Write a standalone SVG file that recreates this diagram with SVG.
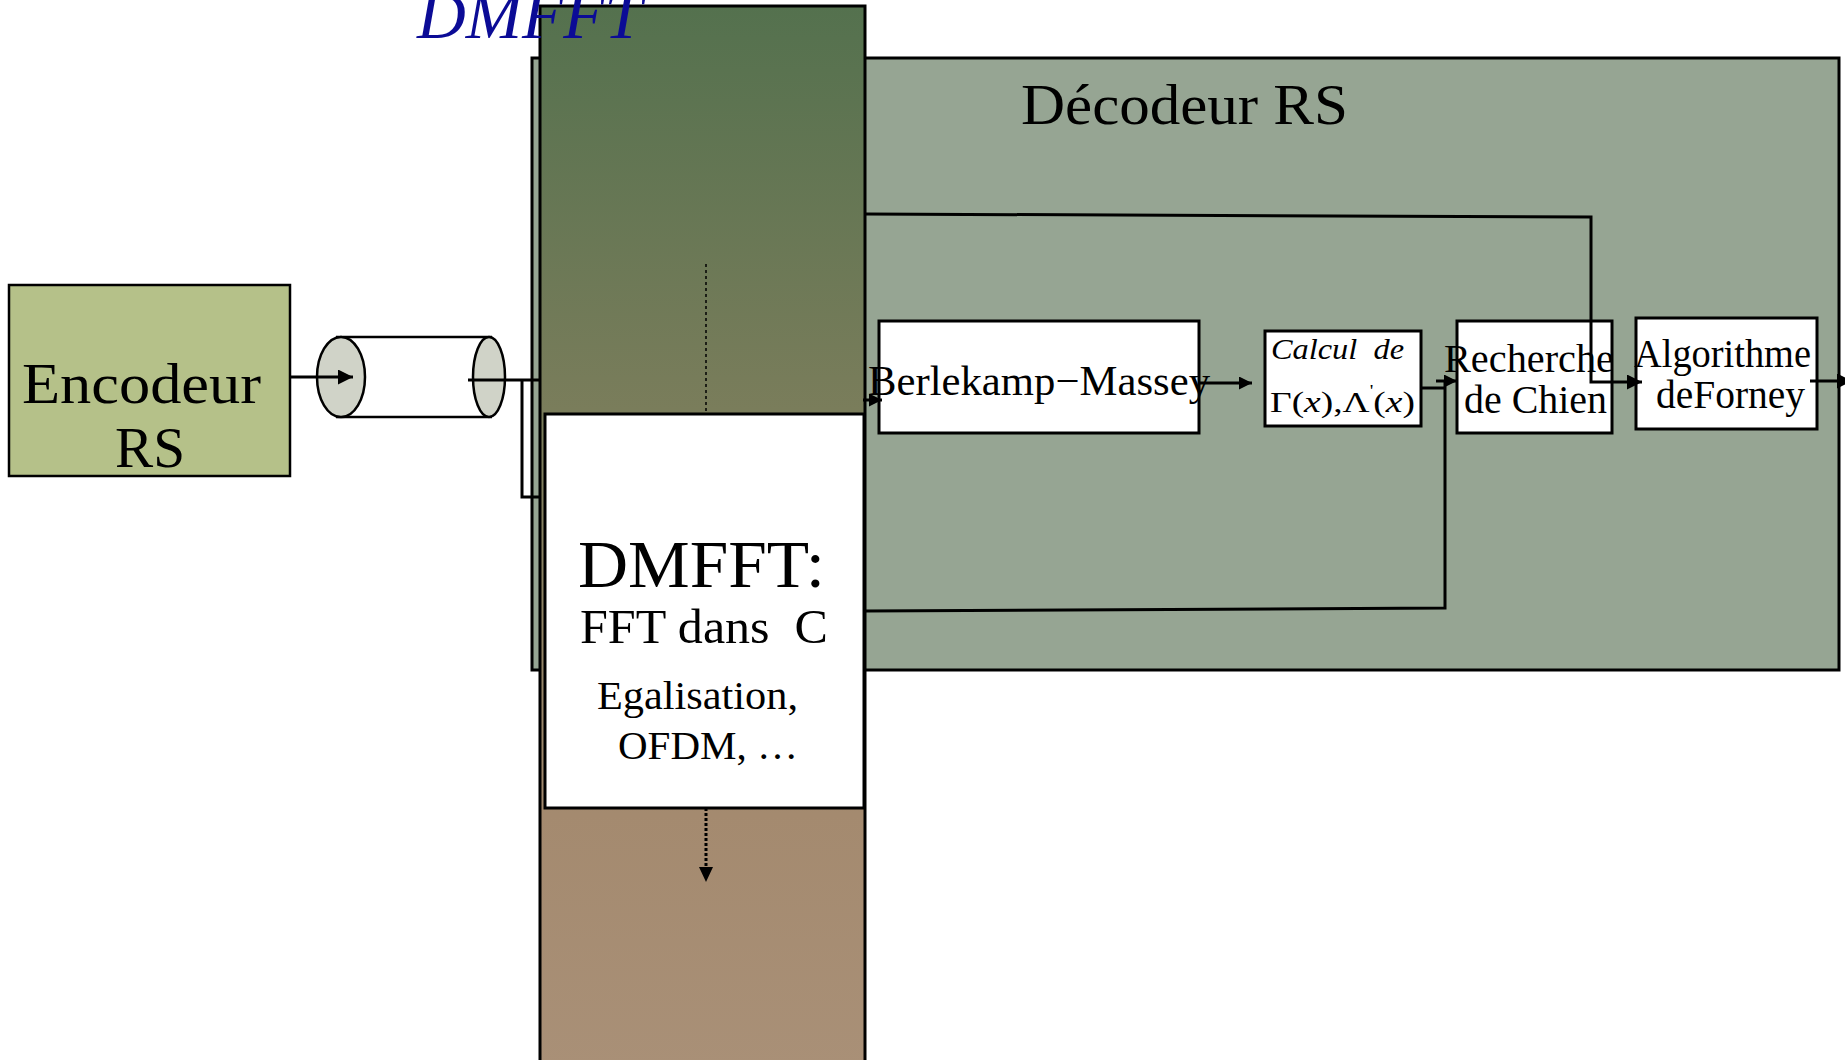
<svg xmlns="http://www.w3.org/2000/svg" width="1845" height="1060" viewBox="0 0 1845 1060">
  <defs>
    <linearGradient id="colGrad" x1="0" y1="0" x2="0" y2="1">
      <stop offset="0" stop-color="#54714e"/>
      <stop offset="0.38" stop-color="#7a7d5b"/>
      <stop offset="0.76" stop-color="#a48a6f"/>
      <stop offset="1" stop-color="#a99077"/>
    </linearGradient>
    <marker id="ah" viewBox="0 0 10 10" refX="10" refY="5" markerWidth="17" markerHeight="15" markerUnits="userSpaceOnUse" orient="auto">
      <path d="M0,0 L10,5 L0,10 z" fill="#000"/>
    </marker>
    <marker id="ahs" viewBox="0 0 10 10" refX="10" refY="5" markerWidth="14" markerHeight="13" markerUnits="userSpaceOnUse" orient="auto">
      <path d="M0,0 L10,5 L0,10 z" fill="#000"/>
    </marker>
  </defs>
  <style>
    .box { fill: #fff; stroke: #000; stroke-width: 3; }
    .serif { font-family: "Liberation Serif", "DejaVu Serif", serif; fill: #000; }
    .wire { fill: none; stroke: #000; stroke-width: 3; }
    .wire2 { fill: none; stroke: #000; stroke-width: 2; }
  </style>

  <rect width="1845" height="1060" fill="#fff"/>

  <!-- Decoder frame -->
  <g id="decodeur">
    <rect x="532" y="58" width="1307" height="612" fill="#96a593" stroke="#000" stroke-width="3"/>
    <text class="serif" x="1021" y="124" font-size="56" textLength="327" lengthAdjust="spacingAndGlyphs" fill="#1a1a1a">Décodeur RS</text>
  </g>

  <!-- DMFFT column -->
  <g id="dmfft-column">
    <rect x="540" y="6" width="325" height="1064" fill="url(#colGrad)" stroke="#000" stroke-width="3"/>
    <line x1="706" y1="264" x2="706" y2="412" stroke="#000" stroke-width="1.5" stroke-dasharray="3,3"/>
  </g>

  <!-- DMFFT block -->
  <g id="dmfft">
    <rect class="box" x="545" y="414" width="319" height="394"/>
    <text class="serif" x="578" y="587" font-size="68" textLength="247" lengthAdjust="spacingAndGlyphs">DMFFT:</text>
    <text class="serif" x="580" y="643" font-size="48" textLength="248" lengthAdjust="spacingAndGlyphs" xml:space="preserve">FFT dans  C</text>
    <text class="serif" x="597" y="709" font-size="41" textLength="201" lengthAdjust="spacingAndGlyphs">Egalisation,</text>
    <text class="serif" x="618" y="759" font-size="41">OFDM, …</text>
  </g>

  <text id="dmfft-title" class="serif" x="417" y="38" font-size="68" font-style="italic" fill="#0b0b96" style="fill:#0b0b96" textLength="225" lengthAdjust="spacingAndGlyphs">DMFFT</text>

  <!-- Encoder -->
  <g id="encodeur">
    <rect x="9" y="285" width="281" height="191" fill="#b5c189" stroke="#000" stroke-width="2.5"/>
    <text class="serif" x="22" y="403" font-size="57" textLength="239" lengthAdjust="spacingAndGlyphs">Encodeur</text>
    <text class="serif" x="115" y="467" font-size="57" textLength="70" lengthAdjust="spacingAndGlyphs">RS</text>
  </g>

  <!-- Channel (cylinder) -->
  <g id="canal">
    <rect x="341" y="337" width="148" height="80" fill="#fff"/>
    <line x1="336" y1="337" x2="492" y2="337" stroke="#000" stroke-width="2.5"/>
    <line x1="336" y1="417" x2="492" y2="417" stroke="#000" stroke-width="2.5"/>
    <ellipse cx="341" cy="377" rx="24" ry="40" fill="#d0d3c8" stroke="#000" stroke-width="2.5"/>
    <ellipse cx="489" cy="377" rx="16" ry="40" fill="#d0d3c8" stroke="#000" stroke-width="2.5"/>
  </g>

  <!-- Processing blocks -->
  <g id="berlekamp">
    <rect class="box" x="879" y="321" width="320" height="112"/>
    <text class="serif" x="868" y="395" font-size="42" textLength="342" lengthAdjust="spacingAndGlyphs">Berlekamp−Massey</text>
  </g>

  <g id="calcul">
    <rect class="box" x="1265" y="331" width="156" height="95" stroke-width="2.5"/>
    <text class="serif" x="1271" y="359" font-size="30" font-style="italic" textLength="133" lengthAdjust="spacingAndGlyphs" xml:space="preserve">Calcul  de</text>
    <text class="serif" x="1270" y="412" font-size="30" textLength="145" lengthAdjust="spacingAndGlyphs">Γ(<tspan font-style="italic">x</tspan>),Λ<tspan font-size="16" dy="-16">'</tspan><tspan dy="16">(</tspan><tspan font-style="italic">x</tspan>)</text>
  </g>

  <g id="chien">
    <rect class="box" x="1457" y="321" width="155" height="112"/>
    <text class="serif" x="1444" y="372" font-size="40" textLength="170" lengthAdjust="spacingAndGlyphs">Recherche</text>
    <text class="serif" x="1464" y="413" font-size="40" textLength="143" lengthAdjust="spacingAndGlyphs">de Chien</text>
  </g>

  <g id="forney">
    <rect class="box" x="1636" y="318" width="181" height="111"/>
    <text class="serif" x="1634" y="367" font-size="39" textLength="177" lengthAdjust="spacingAndGlyphs">Algorithme</text>
    <text class="serif" x="1656" y="408" font-size="39" textLength="149" lengthAdjust="spacingAndGlyphs">deForney</text>
  </g>

  <!-- Connectors -->
  <g id="connectors">
    <path class="wire" d="M290,377 H353" marker-end="url(#ah)"/>
    <path class="wire" d="M468,380 H540"/>
    <path class="wire" d="M522,380 V497 H540"/>
    <path class="wire" d="M863,400 H882" marker-end="url(#ahs)"/>
    <path class="wire" d="M1199,383 H1252" marker-end="url(#ahs)"/>
    <path class="wire" d="M1421,388 H1445"/>
    <path class="wire" d="M865,611 L1445,608 V380"/>
    <path class="wire" d="M1436,381 H1457" marker-end="url(#ahs)"/>
    <path class="wire" d="M865,214 L1591,217 V382 H1642" marker-end="url(#ah)"/>
    <path class="wire" d="M1810,381 H1852" marker-end="url(#ah)"/>
    <path d="M706,808 V868" fill="none" stroke="#000" stroke-width="3" stroke-dasharray="3,2"/>
    <path d="M699,867 L713,867 L706,882 z" fill="#000"/>
  </g>
</svg>
